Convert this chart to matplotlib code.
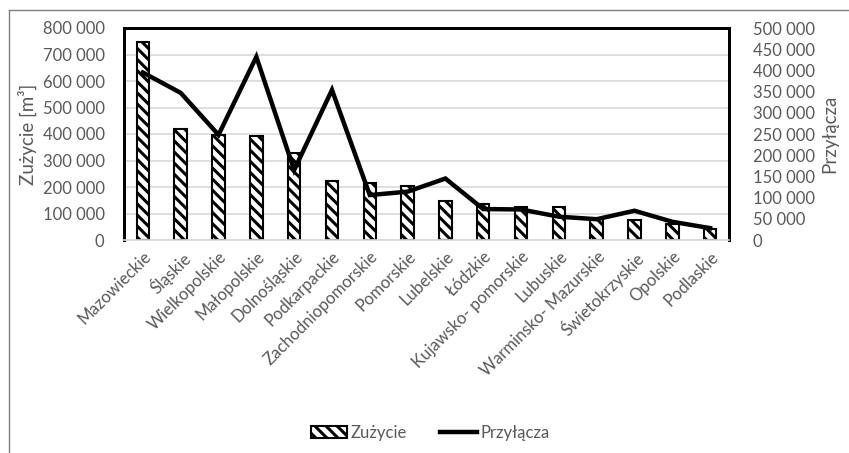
import matplotlib
matplotlib.use("Agg")
import matplotlib.pyplot as plt
from matplotlib.ticker import FuncFormatter, MultipleLocator
from matplotlib.lines import Line2D
import numpy as np

plt.rcParams['font.family'] = ['Lato', 'DejaVu Sans']
plt.rcParams['hatch.linewidth'] = 2.2

regions = ["Mazowieckie", "Śląskie", "Wielkopolskie", "Małopolskie", "Dolnośląskie",
           "Podkarpackie", "Zachodniopomorskie", "Pomorskie", "Lubelskie", "Łódzkie",
           "Kujawsko- pomorskie", "Lubuskie", "Warminsko- Mazurskie", "Świetokrzyskie",
           "Opolskie", "Podlaskie"]
zuzycie = [748000, 419000, 396000, 392000, 329000, 223000, 214000, 204000,
           147000, 135000, 123000, 123000, 78000, 74000, 59000, 41000]
przylacza = [395000, 347000, 248000, 432000, 165000, 354000, 106000, 114000,
             145000, 73000, 72000, 55000, 49000, 69000, 43000, 28000]

gray = "#595959"

fig = plt.figure(figsize=(8.49, 4.53), dpi=100)
ax = fig.add_axes([124/849, 1-240/453, (729-124)/849, (240-28)/453])
ax2 = ax.twinx()

x = np.arange(len(regions))
ax.bar(x, zuzycie, width=0.33, color="white", edgecolor="black", linewidth=1.5,
       hatch="\\\\\\", zorder=3, label="Zużycie")
ax2.plot(x, przylacza, color="black", linewidth=3.2, solid_joinstyle="miter", label="Przyłącza", zorder=4)

ax.set_xlim(-0.5, len(regions)-0.5)
ax.set_ylim(0, 800000)
ax2.set_ylim(0, 500000)
ax.yaxis.set_major_locator(MultipleLocator(100000))
ax2.yaxis.set_major_locator(MultipleLocator(50000))
fmt = FuncFormatter(lambda v, p: f"{int(v):,}".replace(",", " "))
ax.yaxis.set_major_formatter(fmt)
ax2.yaxis.set_major_formatter(fmt)

ax.grid(axis="y", color="#d9d9d9", linewidth=1.2, zorder=0)
ax.set_axisbelow(True)

for a in (ax, ax2):
    a.tick_params(axis="both", length=0, labelsize=12, labelcolor=gray)
    for s in ("top", "left", "right"):
        a.spines[s].set_color("black")
        a.spines[s].set_linewidth(2)
    a.spines["bottom"].set_color("#d9d9d9")
    a.spines["bottom"].set_linewidth(1.2)

ax.tick_params(axis="y", pad=14)
ax2.tick_params(axis="y", pad=17)

ax.set_xticks(x)
ax.set_xticklabels(regions, rotation=45, ha="right", rotation_mode="anchor")
ax.tick_params(axis="x", pad=6)

ax.set_ylabel("Zużycie [m³]", fontsize=13.5, color=gray, labelpad=4)
ax2.set_ylabel("Przyłącza", fontsize=13.5, color=gray, labelpad=5)

handles = [plt.Rectangle((0, 0), 1, 1, facecolor="white", edgecolor="black", hatch="\\\\\\", linewidth=1.5),
           Line2D([0], [0], color="black", linewidth=3.2)]
fig.legend(handles, ["Zużycie", "Przyłącza"], loc="center", bbox_to_anchor=(430/849, 1-433/453),
           ncol=2, frameon=False, fontsize=12, labelcolor=gray, handlelength=2.2,
           handletextpad=0.2, columnspacing=2.0)

# outer chart border (left and top)
fig.add_artist(Line2D([9/849, 9/849], [0, 1-10/453], transform=fig.transFigure, color="#7f7f7f", linewidth=1))
fig.add_artist(Line2D([9/849, 1], [1-10/453, 1-10/453], transform=fig.transFigure, color="#7f7f7f", linewidth=1))

fig.savefig("out.png", dpi=100)
